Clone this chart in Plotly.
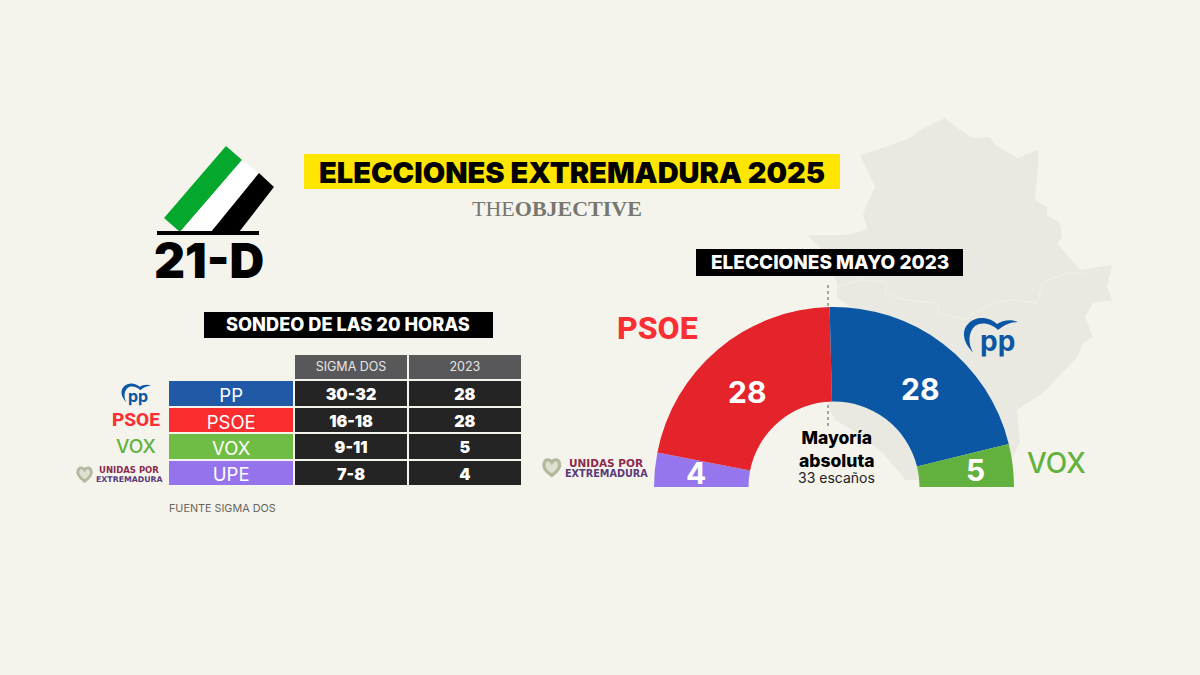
import plotly.graph_objects as go

BG = "#f5f4ec"
WIDTH = 1200
HEIGHT = 675

# table
parties = ["PP", "PSOE", "VOX", "UPE"]
poll_sigma = ["30-32", "16-18", "9-11", "7-8"]
seats_table = [28, 28, 5, 4]
table_header = ["", "SIGMA DOS", "2023"]
label_colors = ["#2059a6", "#fb2d2f", "#70bd45", "#9473ec"]

# hemicycle, left to right
arc_parties = ["UPE", "PSOE", "PP", "VOX"]
arc_seats = [4, 28, 28, 5]
arc_colors = ["#9676ec", "#e4232b", "#0b57a4", "#62b13e"]
arc_label_xy = [(696, 473), (747, 392), (920, 389), (975, 470)]


def px(x):
    return x / WIDTH


def py(y):
    return 1 - y / HEIGHT


def path(points, close=True):
    s = "M " + " L ".join(f"{px(x):.4f},{py(y):.4f}" for x, y in points)
    return s + (" Z" if close else "")


def label(x, y, text, size, color="#000000", weight=400, family="Inter", anchor="center"):
    return dict(x=px(x), y=py(y), xref="paper", yref="paper", text=text, showarrow=False,
                xanchor=anchor, yanchor="middle",
                font=dict(family=family, size=size, color=color, weight=weight))


def box(x0, y0, x1, y1, color):
    return dict(type="rect", xref="paper", yref="paper", x0=px(x0), x1=px(x1), y0=py(y0), y1=py(y1),
                fillcolor=color, line_width=0)


def poly(points, color, layer="above"):
    return dict(type="path", xref="paper", yref="paper", path=path(points), fillcolor=color,
                line_width=0, layer=layer)


def pp_logo(x, y, s):
    # crescent of the PP logo, drawn from the reference
    def p(a, b):
        return f"{px(x + a * s):.4f},{py(y + b * s):.4f}"
    d = (f"M {p(10,35)} C {p(2,28)} {p(-3,15)} {p(5,7)} C {p(13,-2)} {p(27,0)} {p(34,7)} "
         f"C {p(40,3)} {p(48,2)} {p(55,5)} C {p(47,5)} {p(41,8)} {p(35,13)} "
         f"C {p(29,7)} {p(19,4)} {p(12,9)} C {p(5,15)} {p(5,27)} {p(10,35)} Z")
    return dict(type="path", xref="paper", yref="paper", path=d, fillcolor="#0b57a4", line_width=0)


def heart(x, y, s):
    def p(a, b):
        return f"{px(x + a * s):.4f},{py(y + b * s):.4f}"
    d = (f"M {p(8,15)} C {p(1,10)} {p(0,7)} {p(1,4)} C {p(2,0)} {p(6,0)} {p(8,3)} "
         f"C {p(10,0)} {p(14,0)} {p(15,4)} C {p(16,7)} {p(15,10)} {p(8,15)} Z")
    return dict(type="path", xref="paper", yref="paper", path=d, fillcolor="#dfe0d0",
                line=dict(color="#b4b89e", width=3 * s))


# outline of Extremadura
map_outline = [(860, 155), (877, 150), (910, 138), (920, 130), (945, 118), (960, 130), (973, 138), (990, 137),
               (995, 145), (1017, 158), (1038, 150), (1038, 167), (1035, 200), (1047, 207), (1047, 215),
               (1060, 223), (1062, 237), (1057, 243), (1080, 270), (1112, 265), (1107, 287), (1112, 300),
               (1093, 303), (1085, 317), (1093, 337), (1083, 343), (1077, 357), (1043, 393), (1017, 410),
               (1020, 443), (1000, 480), (905, 480), (903, 477), (883, 453), (857, 433), (835, 420), (828, 405),
               (840, 310), (850, 307), (837, 297), (837, 283), (823, 250), (807, 235), (845, 235), (867, 230),
               (863, 213), (875, 187)]
map_border = [(837, 287), (860, 280), (887, 282), (885, 293), (903, 300), (937, 303), (940, 313), (967, 320),
              (973, 313), (993, 303), (1013, 300), (1037, 303), (1043, 282), (1067, 273), (1085, 273)]

shapes = [
    poly(map_outline, "#e9e8e1", layer="below"),
    dict(type="path", xref="paper", yref="paper", path=path(map_border, close=False), layer="below",
         line=dict(color="#f1f0e9", width=1)),
    dict(type="line", xref="paper", yref="paper", x0=px(828), x1=px(828), y0=py(285), y1=py(427),
         layer="below", line=dict(color="#555555", width=1, dash="dot")),
    # 21-D flag
    poly([(226, 146), (242, 160), (180, 232), (164, 218)], "#04a82c"),
    poly([(242, 160), (259, 173), (211, 232), (180, 232)], "#ffffff"),
    poly([(259, 173), (274, 187), (239, 232), (211, 232)], "#000000"),
    box(157, 231, 259, 235, "#000000"),
    box(304, 154, 840, 189, "#ffe600"),
    box(204, 312, 493, 338, "#000000"),
    box(696, 249, 963, 276, "#000000"),
    pp_logo(963, 317, 1),
    pp_logo(121, 383, 0.55),
    heart(543, 459, 1.1),
    heart(77, 467, 0.95),
]

annotations = [
    label(209, 260, "21-D", 48, weight=900),
    label(572, 172, "ELECCIONES EXTREMADURA 2025", 29, weight=900),
    label(557, 208, "THE<b>OBJECTIVE</b>", 22, color="#77766f", family="Liberation Serif"),
    label(348, 324, "SONDEO DE LAS 20 HORAS", 18.2, color="#ffffff", weight=800),
    label(829.5, 262, "ELECCIONES MAYO 2023", 19, color="#ffffff", weight=800),
    label(657, 328, "PSOE", 32, color="#fa2f33", weight=800, family="Roboto"),
    label(997, 341, "pp", 28, color="#0b57a4", weight=700),
    label(1056, 463, "VOX", 28, color="#62b13e", weight=500),
    label(606, 463, "UNIDAS POR", 10.5, color="#8c2a4c", weight=700, family="DejaVu Sans"),
    label(606, 473, "EXTREMADURA", 9.7, color="#5b3a78", weight=700, family="DejaVu Sans"),
    label(836, 449, "Mayoría<br>absoluta", 17.5, weight=800),
    label(836, 477, "33 escaños", 14, color="#222222"),
    label(167, 508, "FUENTE SIGMA DOS", 10.8, color="#66665f", anchor="left"),
    label(136, 419, "PSOE", 19, color="#fa2f33", weight=800, family="Roboto"),
    label(138, 396, "pp", 16, color="#0b57a4", weight=700),
    label(136, 446, "VOX", 19, color="#62b13e", weight=500),
    label(129, 470, "UNIDAS POR", 8.5, color="#8c2a4c", weight=700, family="DejaVu Sans"),
    label(129, 479, "EXTREMADURA", 7.8, color="#5b3a78", weight=700, family="DejaVu Sans"),
]
# seat counts on the arc
for seats, (lx, ly) in zip(arc_seats, arc_label_xy):
    annotations.append(label(lx, ly, str(seats), 30, color="#ffffff", weight=700))

dark = "#242424"
fig = go.Figure()

fig.add_trace(go.Pie(
    labels=arc_parties + [""],
    values=arc_seats + [sum(arc_seats)],
    textinfo="none",
    marker=dict(colors=arc_colors + ["rgba(0,0,0,0)"], line=dict(width=0)),
    hole=0.475,
    sort=False,
    direction="clockwise",
    rotation=270,
    showlegend=False,
    hoverinfo="skip",
    domain=dict(x=[px(834 - 180), px(834 + 180)], y=[py(487 + 180), py(487 - 180)]),
))

fig.add_trace(go.Table(
    columnwidth=[126, 113, 114],
    domain=dict(x=[px(168), px(522.5)], y=[py(490), py(354)]),
    header=dict(
        values=table_header,
        height=26.4,
        fill_color=[BG, "#58585a", "#58585a"],
        line=dict(color=BG, width=2),
        align="center",
        font=dict(family="Inter", size=12.5, color="#e6e6e6"),
    ),
    cells=dict(
        values=[parties, poll_sigma, seats_table],
        height=26.4,
        fill_color=[label_colors, [dark] * 4, [dark] * 4],
        line=dict(color=BG, width=2),
        align="center",
        font=dict(family="Inter", size=[18.5, 16, 16], color="#ffffff", weight=[400, 900, 900]),
    ),
))

fig.update_layout(
    width=WIDTH,
    height=HEIGHT,
    margin=dict(l=0, r=0, t=0, b=0),
    paper_bgcolor=BG,
    plot_bgcolor=BG,
    shapes=shapes,
    annotations=annotations,
)

fig.write_html("out.html", config={"displayModeBar": False},
               post_script="document.body.style.margin = '0';")
